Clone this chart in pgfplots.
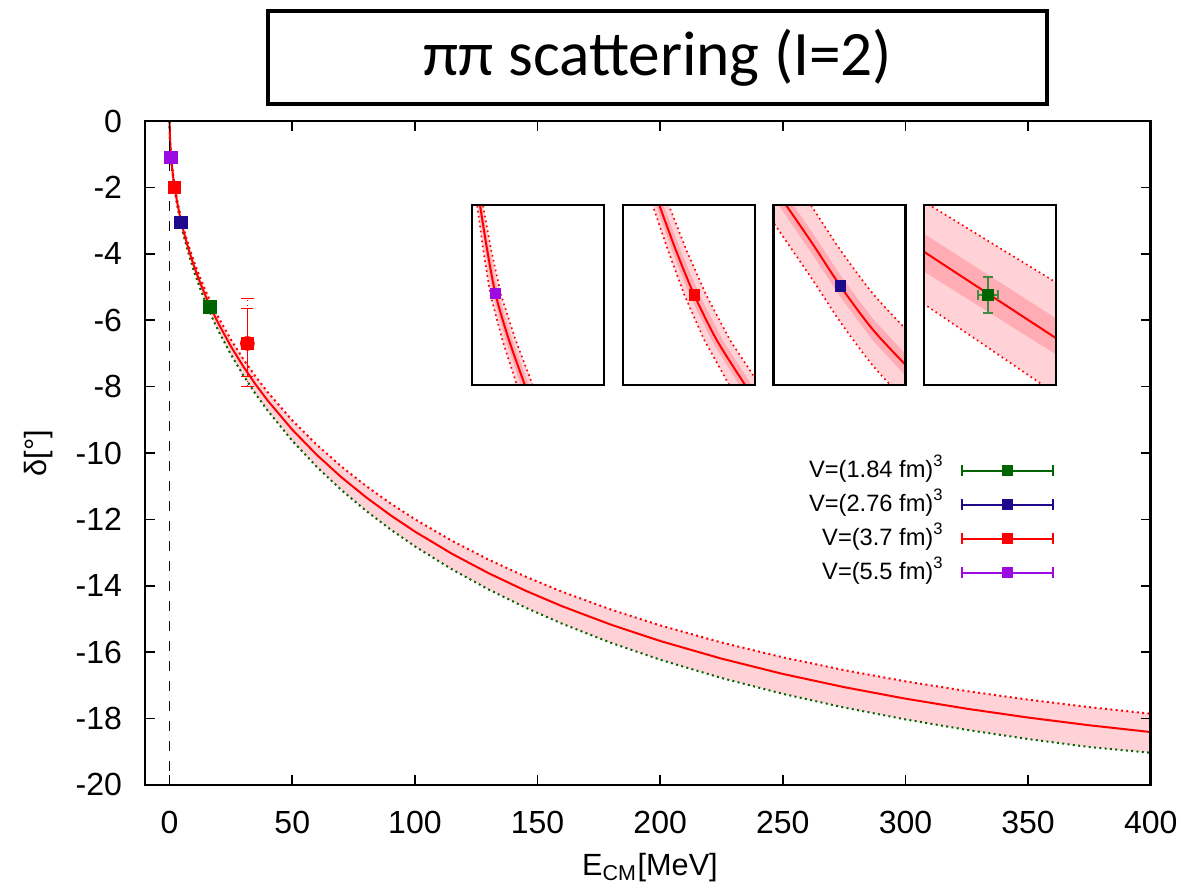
\documentclass[border=0pt]{standalone}
\usepackage{fontspec}
\setmainfont{Liberation Sans}
\newfontfamily\titlefont{Carlito}
\usepackage{pgfplots}
\pgfplotsset{compat=1.18}
\usepackage{pgfplotstable}
\usepgfplotslibrary{fillbetween}

\definecolor{cgreen}{RGB}{0,100,0}
\definecolor{cblue}{RGB}{30,10,140}
\definecolor{cred}{RGB}{255,0,0}
\definecolor{cpurple}{RGB}{155,10,225}
\definecolor{bandlight}{RGB}{255,210,215}
\definecolor{banddark}{RGB}{255,172,180}

\pgfplotstableread{
E c u l
0 0 0 0
0.1 -0.444 -0.431 -0.460
0.3 -0.769 -0.746 -0.797
0.6 -1.088 -1.055 -1.127
1 -1.403 -1.361 -1.454
1.5 -1.717 -1.665 -1.779
2 -1.982 -1.923 -2.053
3 -2.424 -2.351 -2.511
4 -2.794 -2.710 -2.895
5 -3.120 -3.026 -3.232
6 -3.413 -3.311 -3.536
8 -3.930 -3.812 -4.071
10 -4.383 -4.252 -4.541
12.5 -4.883 -4.737 -5.059
15 -5.331 -5.171 -5.523
17.5 -5.740 -5.568 -5.947
20 -6.115 -5.932 -6.335
25 -6.791 -6.587 -7.035
30 -7.390 -7.168 -7.656
35 -7.930 -7.692 -8.215
40 -8.423 -8.170 -8.726
50 -9.297 -9.018 -9.632
60 -10.056 -9.754 -10.418
70 -10.728 -10.406 -11.114
80 -11.329 -10.989 -11.737
90 -11.872 -11.516 -12.299
100 -12.367 -11.996 -12.812
115 -13.031 -12.640 -13.500
130 -13.619 -13.210 -14.109
145 -14.145 -13.721 -14.654
160 -14.616 -14.178 -15.142
180 -15.173 -14.718 -15.719
200 -15.663 -15.193 -16.227
225 -16.195 -15.709 -16.778
250 -16.655 -16.155 -17.255
275 -17.053 -16.541 -17.667
300 -17.400 -16.878 -18.026
325 -17.703 -17.172 -18.340
350 -17.969 -17.430 -18.616
375 -18.202 -17.656 -18.857
400 -18.406 -17.854 -19.030
}\curve

\pgfplotsset{
  inset/.style={anchor=south west, scale only axis, width=39.6pt, height=54pt,
    xmin=0, xmax=1, ymin=0, ymax=1, xtick=\empty, ytick=\empty,
    axis line style={line width=0.8pt}, axis on top},
  edge/.style={cred, densely dotted, line width=0.5pt},
}

\begin{document}
\begin{tikzpicture}

% title box
\draw[line width=1.3pt] (80.4pt,235.8pt) rectangle (314.1pt,263.7pt);
\node[font=\titlefont\fontsize{19}{22}\selectfont] at (197.4pt,249.6pt) {ππ scattering (I=2)};

\begin{axis}[
  at={(43.53pt,31.5pt)}, anchor=south west,
  scale only axis, width=301.7pt, height=199.2pt,
  xmin=-10, xmax=400, ymin=-20, ymax=0,
  xtick={0,50,...,400}, ytick={-20,-18,...,0},
  xticklabels={0,50,100,150,200,250,300,350,400},
  yticklabels={-20,-18,-16,-14,-12,-10,-8,-6,-4,-2,0},
  tick align=inside, major tick length=3pt,
  tick style={black, line width=0.5pt},
  axis line style={line width=0.8pt},
  ticklabel style={font=\fontsize{9.6}{11.5}\selectfont},
  xticklabel style={yshift=-4.2pt},
  yticklabel style={xshift=-3.4pt},
  xlabel={E\textsubscript{CM}[MeV]}, ylabel={δ[°]},
  label style={font=\fontsize{9.2}{11}\selectfont},
  xlabel style={at={(axis description cs:0.502,-0.125)}, anchor=center},
  ylabel style={at={(axis description cs:-0.106,0.5)}, anchor=center},
  axis on top,
  legend plot pos=right,
  legend cell align=right,
  legend style={draw=none, fill=none,
    at={(rel axis cs:0.914,0.506)}, anchor=north east,
    font=\fontsize{7.1}{8.5}\selectfont,
    nodes={inner sep=1pt, text height=5.2pt, text depth=1.4pt},
    row sep=1.6pt, column sep=4pt},
  legend image code/.code={
    \draw[#1, mark=none, solid, line width=0.5pt] (0pt,0pt) -- (27.3pt,0pt);
    \draw[#1, mark=none, solid, line width=0.5pt] (0pt,-1.6pt) -- (0pt,1.6pt);
    \draw[#1, mark=none, solid, line width=0.5pt] (27.3pt,-1.6pt) -- (27.3pt,1.6pt);
    \draw[#1, mark size=1.4pt] plot coordinates {(13.65pt,0pt)};
  },
]
\addplot[name path=up, draw=none, forget plot] table[x=E, y=u] {\curve};
\addplot[name path=lo, draw=none, forget plot] table[x=E, y=l] {\curve};
\addplot[bandlight, forget plot] fill between[of=up and lo];
\addplot[cred, densely dotted, line width=0.6pt, forget plot] table[x=E, y=u] {\curve};
\addplot[cgreen, densely dotted, line width=0.6pt, forget plot] table[x=E, y=l] {\curve};
\addplot[cred, line width=0.6pt, forget plot] table[x=E, y=c] {\curve};
\addplot[black, dashed, line width=0.4pt, forget plot] coordinates {(0,0) (0,-20)};
% dotted (outer) error of red point
\addplot[cred, only marks, mark=none, forget plot,
  error bars/.cd, y dir=both, y explicit,
  error bar style={densely dotted, line width=0.5pt}]
  coordinates {(31.7,-6.70) += (0,1.36) -= (0,1.30)};

\addplot[cgreen, only marks, mark=square*, mark size=1.8pt,
  error bars/.cd, y dir=both, y explicit]
  coordinates {(16.5,-5.6) +- (0,0.05)};
\addlegendentry{V=(1.84 fm)\textsuperscript{3}}
\addplot[cblue, only marks, mark=square*, mark size=1.8pt,
  error bars/.cd, y dir=both, y explicit]
  coordinates {(4.6,-3.05) +- (0,0.05)};
\addlegendentry{V=(2.76 fm)\textsuperscript{3}}
\addplot[cred, only marks, mark=square*, mark size=1.8pt,
  error bars/.cd, y dir=both, y explicit]
  coordinates {(2.0,-2.0) +- (0,0.05) (31.7,-6.70) += (0,1.06) -= (0,1.0)};
\addlegendentry{V=(3.7 fm)\textsuperscript{3}}
\addplot[cpurple, only marks, mark=square*, mark size=1.8pt,
  error bars/.cd, y dir=both, y explicit]
  coordinates {(0.6,-1.1) +- (0,0.05)};
\addlegendentry{V=(5.5 fm)\textsuperscript{3}}
\end{axis}

% inset 1 (purple)
\begin{axis}[inset, at={(141.6pt,151.5pt)}]
\addplot[name path=ou, draw=none] coordinates {(0.03,1.05) (0.085,0.75) (0.14,0.5) (0.23,0.25) (0.34,0) (0.355,-0.05)};
\addplot[name path=ol, draw=none] coordinates {(0.07,1.05) (0.145,0.75) (0.22,0.5) (0.33,0.25) (0.46,0) (0.485,-0.05)};
\addplot[name path=iu, draw=none] coordinates {(0.04,1.05) (0.10,0.75) (0.16,0.5) (0.255,0.25) (0.37,0) (0.39,-0.05)};
\addplot[name path=il, draw=none] coordinates {(0.06,1.05) (0.13,0.75) (0.20,0.5) (0.305,0.25) (0.43,0) (0.45,-0.05)};
\addplot[bandlight] fill between[of=ou and ol];
\addplot[banddark] fill between[of=iu and il];
\addplot[edge] coordinates {(0.03,1.05) (0.085,0.75) (0.14,0.5) (0.23,0.25) (0.34,0) (0.355,-0.05)};
\addplot[edge] coordinates {(0.07,1.05) (0.145,0.75) (0.22,0.5) (0.33,0.25) (0.46,0) (0.485,-0.05)};
\addplot[cred, line width=0.6pt, smooth] coordinates {(0.05,1.05) (0.115,0.75) (0.18,0.5) (0.28,0.25) (0.40,0) (0.42,-0.05)};
\addplot[cpurple, only marks, mark=square*, mark size=1.5pt] coordinates {(0.18,0.51)};
\end{axis}

% inset 2 (red)
\begin{axis}[inset, at={(186.9pt,151.5pt)}]
\addplot[name path=ou, draw=none] coordinates {(0.21,1.03) (0.34,0.75) (0.465,0.5) (0.615,0.25) (0.805,0) (0.835,-0.04)};
\addplot[name path=ol, draw=none] coordinates {(0.33,1.03) (0.48,0.75) (0.63,0.5) (0.81,0.25) (1.035,0) (1.075,-0.04)};
\addplot[name path=iu, draw=none] coordinates {(0.235,1.03) (0.37,0.75) (0.505,0.5) (0.67,0.25) (0.88,0) (0.915,-0.04)};
\addplot[name path=il, draw=none] coordinates {(0.29,1.03) (0.435,0.75) (0.58,0.5) (0.755,0.25) (0.975,0) (1.01,-0.04)};
\addplot[bandlight] fill between[of=ou and ol];
\addplot[banddark] fill between[of=iu and il];
\addplot[edge] coordinates {(0.21,1.03) (0.34,0.75) (0.465,0.5) (0.615,0.25) (0.805,0) (0.835,-0.04)};
\addplot[edge] coordinates {(0.33,1.03) (0.48,0.75) (0.63,0.5) (0.81,0.25) (1.035,0) (1.075,-0.04)};
\addplot[cred, line width=0.6pt, smooth] coordinates {(0.26,1.03) (0.40,0.75) (0.54,0.5) (0.71,0.25) (0.925,0) (0.96,-0.04)};
\addplot[cred, only marks, mark=square*, mark size=1.5pt] coordinates {(0.54,0.5)};
\end{axis}

% inset 3 (blue)
\begin{axis}[inset, at={(232.05pt,151.5pt)}]
\addplot[name path=ou, draw=none] coordinates {(-0.1,1.41) (0.095,1.2) (0.3,0.98) (0.51,0.746) (0.75,0.51) (1.0,0.312) (1.1,0.24)};
\addplot[name path=ol, draw=none] coordinates {(-0.1,1.01) (0.095,0.8) (0.3,0.58) (0.51,0.346) (0.75,0.11) (1.0,-0.088) (1.1,-0.16)};
\addplot[name path=iu, draw=none] coordinates {(-0.1,1.27) (0.095,1.06) (0.3,0.84) (0.51,0.606) (0.75,0.37) (1.0,0.172) (1.1,0.10)};
\addplot[name path=il, draw=none] coordinates {(-0.1,1.15) (0.095,0.94) (0.3,0.72) (0.51,0.486) (0.75,0.25) (1.0,0.052) (1.1,-0.02)};
\addplot[bandlight] fill between[of=ou and ol];
\addplot[banddark] fill between[of=iu and il];
\addplot[edge, smooth] coordinates {(-0.1,1.41) (0.095,1.2) (0.3,0.98) (0.51,0.746) (0.75,0.51) (1.0,0.312) (1.1,0.24)};
\addplot[edge, smooth] coordinates {(-0.1,1.01) (0.095,0.8) (0.3,0.58) (0.51,0.346) (0.75,0.11) (1.0,-0.088) (1.1,-0.16)};
\addplot[cred, line width=0.6pt, smooth] coordinates {(-0.1,1.21) (0.095,1.0) (0.3,0.78) (0.51,0.546) (0.75,0.31) (1.0,0.112) (1.1,0.04)};
\addplot[cblue, only marks, mark=square*, mark size=1.5pt] coordinates {(0.51,0.55)};
\end{axis}

% inset 4 (green)
\begin{axis}[inset, at={(277.2pt,151.5pt)}]
\addplot[name path=ou, draw=none] coordinates {(-0.1,1.063) (1.1,0.525)};
\addplot[name path=ol, draw=none] coordinates {(-0.1,0.50) (1.1,-0.10)};
\addplot[name path=iu, draw=none] coordinates {(-0.1,0.887) (1.1,0.323)};
\addplot[name path=il, draw=none] coordinates {(-0.1,0.676) (1.1,0.124)};
\addplot[bandlight] fill between[of=ou and ol];
\addplot[banddark] fill between[of=iu and il];
\addplot[edge] coordinates {(-0.1,1.063) (1.1,0.525)};
\addplot[edge] coordinates {(-0.1,0.50) (1.1,-0.10)};
\addplot[cred, line width=0.6pt] coordinates {(-0.1,0.788) (1.1,0.212)};
\addplot[cgreen, only marks, mark=square*, mark size=1.5pt,
  error bars/.cd, x dir=both, x explicit, y dir=both, y explicit,
  error bar style={line width=0.5pt, color=cgreen!75!white}]
  coordinates {(0.485,0.50) +- (0.075,0.1)};
\end{axis}

\pgfresetboundingbox
\path (0pt,0pt) rectangle (354.3pt,267pt);
\end{tikzpicture}
\end{document}
